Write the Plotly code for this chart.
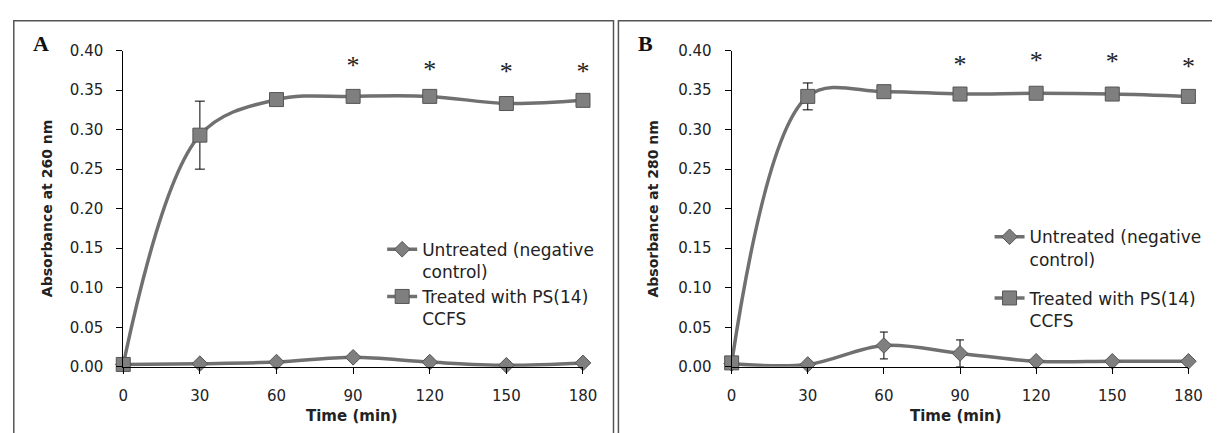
import plotly.graph_objects as go

# The page places the figure 8px from the window's top-left corner.
W, H = 1220, 433
OFF = 8


def px(x):
    return (x - OFF) / W


def py(y):
    return 1 - (y - OFF) / H


time_min = [0, 30, 60, 90, 120, 150, 180]
x_ticks = [0, 30, 60, 90, 120, 150, 180]
y_ticks = [0.00, 0.05, 0.10, 0.15, 0.20, 0.25, 0.30, 0.35, 0.40]
y_tick_labels = ["0.00", "0.05", "0.10", "0.15", "0.20", "0.25", "0.30", "0.35", "0.40"]

# Panel A (260 nm)
a_untreated = [0.003, 0.004, 0.006, 0.012, 0.006, 0.002, 0.005]
a_untreated_err = [0.0, 0.0, 0.0, 0.005, 0.0, 0.0, 0.0]
a_treated = [0.003, 0.293, 0.338, 0.342, 0.342, 0.333, 0.337]
a_treated_err = [0.0, 0.043, 0.0, 0.0, 0.0, 0.0, 0.0]
a_star_x = [90, 120, 150, 180]
a_star_y = [0.378, 0.374, 0.371, 0.371]

# Panel B (280 nm)
b_untreated = [0.004, 0.003, 0.027, 0.017, 0.007, 0.007, 0.007]
b_untreated_err = [0.0, 0.0, 0.017, 0.017, 0.0, 0.0, 0.0]
b_treated = [0.005, 0.342, 0.348, 0.345, 0.346, 0.345, 0.342]
b_treated_err = [0.0, 0.017, 0.0, 0.0, 0.0, 0.0, 0.0]
b_star_x = [90, 120, 150, 180]
b_star_y = [0.380, 0.385, 0.383, 0.377]

series_names = ["Untreated (negative<br>control)", "Treated with PS(14)<br>CCFS"]

LINE = "#707070"
FILL = "#7f7f7f"
EDGE = "#555555"

fig = go.Figure()


def add_panel(xa, ya, legend, tag, untreated, u_err, treated, t_err, sx, sy):
    fig.add_trace(go.Scatter(
        x=time_min, y=untreated, name=series_names[0], mode="lines+markers",
        xaxis=xa, yaxis=ya, legend=legend, legendgroup=tag + "u", cliponaxis=False,
        line=dict(color=LINE, width=3.5, shape="spline", smoothing=1),
        marker=dict(symbol="diamond", size=12, color=FILL, line=dict(color=EDGE, width=1)),
        error_y=dict(type="data", array=u_err, visible=True, color="black", thickness=1, width=4),
    ))
    fig.add_trace(go.Scatter(
        x=time_min, y=treated, name=series_names[1], mode="lines+markers",
        xaxis=xa, yaxis=ya, legend=legend, legendgroup=tag + "t", cliponaxis=False,
        line=dict(color=LINE, width=3.5, shape="spline", smoothing=1),
        marker=dict(symbol="square", size=14, color=FILL, line=dict(color=EDGE, width=1)),
        error_y=dict(type="data", array=t_err, visible=True, color="black", thickness=1, width=5),
    ))
    fig.add_trace(go.Scatter(
        x=sx, y=sy, mode="text", text=["*"] * len(sx), showlegend=False,
        xaxis=xa, yaxis=ya, cliponaxis=False, hoverinfo="skip",
        textfont=dict(family="Liberation Serif", size=26, color="#222"),
    ))


add_panel("x", "y", "legend", "a", a_untreated, a_untreated_err, a_treated, a_treated_err, a_star_x, a_star_y)
add_panel("x2", "y2", "legend2", "b", b_untreated, b_untreated_err, b_treated, b_treated_err, b_star_x, b_star_y)

axis_common = dict(
    showgrid=False, zeroline=False, showline=True, linecolor="black", linewidth=1,
    ticks="outside", ticklen=6, tickcolor="black", tickwidth=1,
    tickfont=dict(family="DejaVu Sans", size=15, color="#222"),
    fixedrange=True,
)

ydom = [py(373), py(43)]

fig.update_layout(
    width=W, height=H, margin=dict(l=0, r=0, t=0, b=0),
    paper_bgcolor="white", plot_bgcolor="white",
    font=dict(family="DejaVu Sans", color="#222"),
    xaxis=dict(domain=[px(120), px(587)], range=[0, 180], tickvals=x_ticks,
               ticklabelstandoff=9, anchor="y", **axis_common),
    yaxis=dict(domain=ydom, range=[0, 0.40], tickvals=y_ticks, ticktext=y_tick_labels,
               ticklabelstandoff=10, anchor="x", **axis_common),
    xaxis2=dict(domain=[px(738), px(1202)], range=[0, 180], tickvals=x_ticks,
                ticklabelstandoff=9, anchor="y2", **axis_common),
    yaxis2=dict(domain=ydom, range=[0, 0.40], tickvals=y_ticks, ticktext=y_tick_labels,
                ticklabelstandoff=10, anchor="x2", **axis_common),
    legend=dict(x=px(383), y=py(232), xanchor="left", yanchor="top",
                bgcolor="rgba(0,0,0,0)", valign="top", traceorder="normal", tracegroupgap=0,
                font=dict(family="DejaVu Sans", size=17, color="#222")),
    legend2=dict(x=px(1000), y=py(219), xanchor="left", yanchor="top",
                 bgcolor="rgba(0,0,0,0)", valign="top", traceorder="grouped", tracegroupgap=14,
                 font=dict(family="DejaVu Sans", size=17, color="#222")),
    showlegend=True,
)

# Panel frames
fig.add_shape(type="rect", xref="paper", yref="paper", x0=px(8.8), x1=px(618),
              y0=-0.2, y1=py(12), line=dict(color="#555", width=1.5), layer="below")
fig.add_shape(type="rect", xref="paper", yref="paper", x0=px(623), x1=1.2,
              y0=-0.2, y1=py(12), line=dict(color="#555", width=1.5), layer="below")

# Titles and panel letters
for xc, lab in [(42, "Absorbance at 260 nm"), (658, "Absorbance at 280 nm")]:
    fig.add_annotation(xref="paper", yref="paper", x=px(xc), y=py(208),
                       text="<b>" + lab + "</b>", textangle=-90, showarrow=False,
                       font=dict(family="DejaVu Sans", size=14, color="#222"),
                       xanchor="center", yanchor="middle")
for xc, lab in [(352, "Time (min)"), (966, "Time (min)")]:
    fig.add_annotation(xref="paper", yref="paper", x=px(xc), y=py(424),
                       text="<b>" + lab + "</b>", showarrow=False,
                       font=dict(family="DejaVu Sans", size=15, color="#222"),
                       xanchor="center", yanchor="middle")
for xc, lab in [(36, "A"), (650, "B")]:
    fig.add_annotation(xref="paper", yref="paper", x=px(xc), y=py(36),
                       text="<b>" + lab + "</b>", showarrow=False,
                       font=dict(family="Liberation Serif", size=22, color="#111"),
                       xanchor="center", yanchor="middle")

fig.write_html("out.html")
